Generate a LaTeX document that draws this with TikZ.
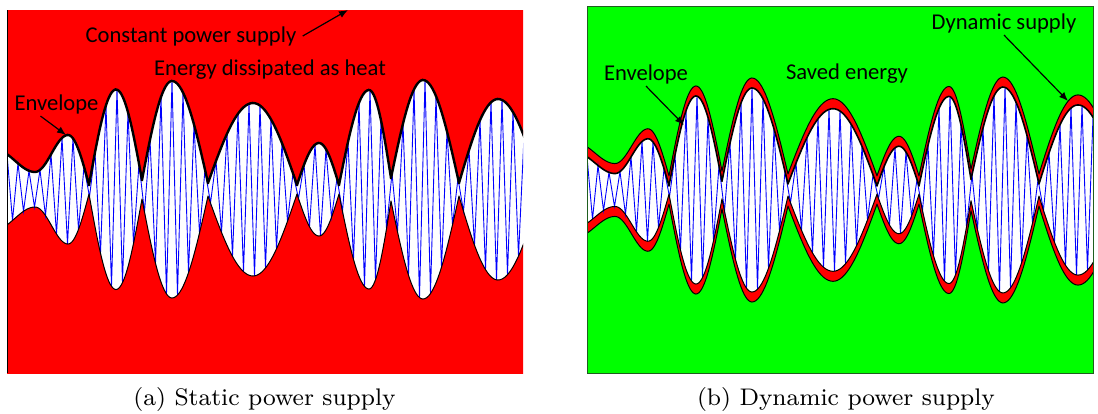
\documentclass[tikz,border=0pt]{standalone}
\usepackage{fontspec}
\usepackage{graphicx}
\usetikzlibrary{arrows.meta}
\newfontfamily\lblfont{Carlito}
\definecolor{HeatRed}{HTML}{FF0000}
\definecolor{SaveGreen}{HTML}{00FF00}
\definecolor{CarrierBlue}{HTML}{0000FF}
\definecolor{EdgeGreen}{HTML}{1F5F1F}

% envelope pieces: from/to, min knot, max knot, carrier samples, roundness
\def\envsegs{-12/28/28/17.5/-12/40/-2/5/1, 28/61/28/17.5/61/54.5/6/11/1,
  61/82/82/4.5/61/54.5/12/14/0, 82/109/82/4.5/109/100/15/19/0,
  109/135/135/9.5/109/100/20/24/0, 135/165/135/9.5/165/108.5/25/29/0,
  165/201/201/6.5/165/108.5/30/36/0, 201/246/201/6.5/246/86.5/37/44/0,
  246/290/290/4.5/246/86.5/45/52/0, 290/312/290/4.5/312/46.5/53/56/0,
  312/332/332/4.5/312/46.5/57/60/0, 332/362/332/4.5/362/99.5/61/65/0,
  362/384/384/11.5/362/99.5/66/69/0, 384/416/384/11.5/416/109.5/70/75/0,
  416/452/452/6.5/416/109.5/76/82/0, 452/491/452/6.5/491/90.5/83/89/0,
  491/533/533/5/491/90.5/90/96/0}
\newcommand{\hmp}[1]{(\am+(\ax-\am)*((1-\sh)*sin(abs(#1-\um)/abs(\ux-\um)*90)
  +\sh*(1-cos(abs(#1-\um)/abs(\ux-\um)*180))/2))}
\newcommand{\envcurve}[1]{\foreach \ua/\ub/\um/\am/\ux/\ax/\ka/\kb/\sh in \envsegs
  {-- plot[domain=\ua:\ub,samples=20] (\x,{#1})}}
\newcommand{\carriercurve}[1]{\foreach \ua/\ub/\um/\am/\ux/\ax/\ka/\kb/\sh in \envsegs
  {-- plot[samples at={\ka,...,\kb},variable=\k] ({\k*5.5},{#1})}}

\begin{document}
\begin{tikzpicture}[x=0.5pt,y=-0.5pt,
    lbl/.style={font=\lblfont\fontsize{11.3}{13}\selectfont, inner sep=1pt},
    captext/.style={inner sep=0pt},
    pointer/.style={-{Latex[length=4.5pt,width=3.6pt]}, line width=0.6pt},
    carrier/.style={CarrierBlue, line width=0.45pt},
    envline/.style={black, line width=0.5pt},
  ]
  \useasboundingbox (0,0) rectangle (1098,413);

  % (a) static supply
  \begin{scope}[shift={(7,0)}]
    \clip (0,10) rectangle (516,373);
    \fill[white] (0,10) rectangle (516,373);
    \fill[HeatRed] (-20,0) \envcurve{189.5-\hmp{\x}} -- (560,0) -- cycle;
    \fill[HeatRed] (-20,400) \envcurve{189.5+\hmp{\x}} -- (560,400) -- cycle;
    \draw[carrier] (-11,149.6) \carriercurve{189.5-\hmp{\k*5.5}*(1-2*mod(abs(\k),2))};
    \draw[envline] (-12,229.5) \envcurve{189.5+\hmp{\x}};
    \draw[envline, line width=1.2pt] (-12,149.5) \envcurve{189.5-\hmp{\x}};
  \end{scope}
  \draw[black, line width=0.5pt] (7,10) -- (7,373);

  % (b) dynamic supply
  \begin{scope}[shift={(587,0)}]
    \clip (0,6) rectangle (506,373);
    \fill[white] (0,6) rectangle (506,373);
    \fill[HeatRed] (-20,0) \envcurve{190-0.94*\hmp{\x}} -- (560,0) -- cycle;
    \fill[SaveGreen] (-20,0) \envcurve{180-0.94*\hmp{\x}} -- (560,0) -- cycle;
    \fill[HeatRed] (-20,400) \envcurve{190+0.94*\hmp{\x}} -- (560,400) -- cycle;
    \fill[SaveGreen] (-20,400) \envcurve{200+0.94*\hmp{\x}} -- (560,400) -- cycle;
    \draw[carrier] (-11,152.5) \carriercurve{190-0.94*\hmp{\k*5.5}*(1-2*mod(abs(\k),2))};
    \draw[envline] (-12,142.4) \envcurve{180-0.94*\hmp{\x}};
    \draw[envline] (-12,227.6) \envcurve{190+0.94*\hmp{\x}};
    \draw[envline] (-12,237.6) \envcurve{200+0.94*\hmp{\x}};
    \draw[envline, line width=0.8pt] (-12,152.4) \envcurve{190-0.94*\hmp{\x}};
  \end{scope}
  \draw[EdgeGreen, line width=0.5pt] (587,6) rectangle (1093,373);

  % labels
  \node[lbl] (cps) at (191,36) {Constant power supply};
  \node[lbl] (heat) at (270,70) {Energy dissipated as heat};
  \node[lbl] (envL) at (56.5,104) {Envelope};
  \node[lbl] (envR) at (646,74) {Envelope};
  \node[lbl] (saved) at (847,74) {Saved energy};
  \node[lbl] (dyn) at (1004,23) {Dynamic supply};

  \coordinate (cpsTip) at (348,10);
  \coordinate (envLTip) at (66,135);
  \coordinate (envRTip) at (684,125);
  \coordinate (dynTip) at (1068,101);

  \draw[pointer] ([xshift=2pt]cps.east) -- (cpsTip);
  \draw[pointer] ([xshift=-8pt]envL.south) -- (envLTip);
  \draw[pointer] (envR.south) -- (envRTip);
  \draw[pointer] (dyn.south) -- (dynTip);

  % captions
  \node[captext] (capA) at (264.5,399) {\scalebox{1.5}{\fontsize{8}{9.6}\selectfont (a) Static power supply}};
  \node[captext] (capB) at (846,399) {\scalebox{1.5}{\fontsize{8}{9.6}\selectfont (b) Dynamic power supply}};
\end{tikzpicture}
\end{document}
